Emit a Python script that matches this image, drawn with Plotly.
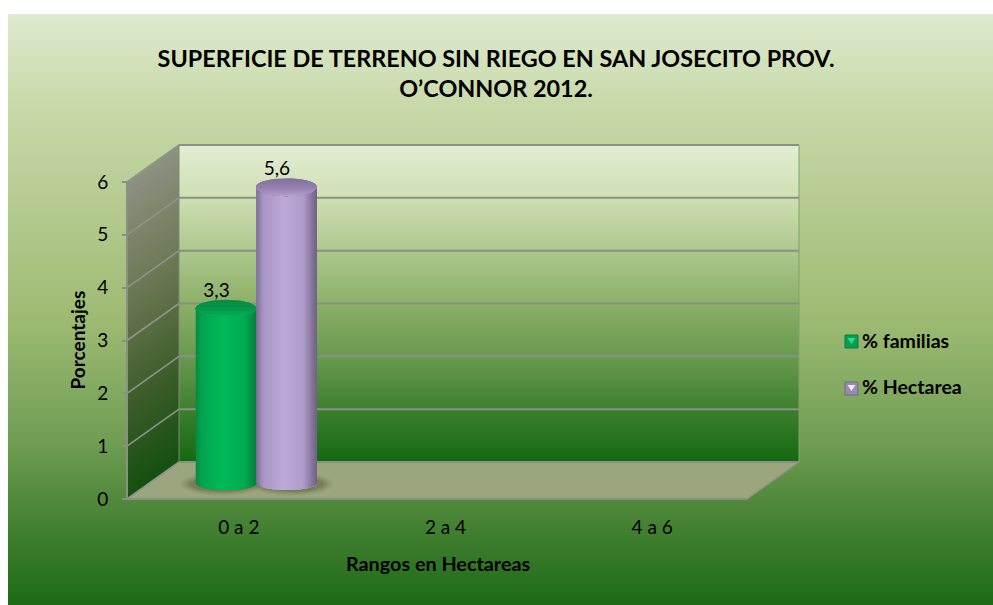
import numpy as np
import plotly.graph_objects as go

# ---- data ----
categories = ["0 a 2", "2 a 4", "4 a 6"]
familias = [3.3, None, None]
hectarea = [5.6, None, None]
y_ticks = [0, 1, 2, 3, 4, 5, 6]
title_lines = ["SUPERFICIE DE TERRENO SIN RIEGO EN SAN JOSECITO PROV.", "O\u2019CONNOR 2012."]

# ---- geometry (pixels of the 993x605 page) ----
W, H = 993, 605
FX0, FX1 = 127, 747      # front floor edge
FY0, FY6 = 499, 182      # front axis 0 and 6
DX, DY = 52, 37          # depth offset of back wall
PX_X = (FX1 - FX0) / 3
PX_Y = (FY0 - FY6) / 6
CAT_LABEL_SHIFT = 8.5 / PX_X   # category labels sit under the mid-depth of the floor

def px(p):
    return (np.asarray(p, dtype=float) - FX0) / PX_X - 0.5

def py(p):
    return (FY0 - np.asarray(p, dtype=float)) / PX_Y

dxu = DX / PX_X
dyu = DY / PX_Y
GRID = "#8B9087"

fig = go.Figure()

def lerp_color(stops, t):
    ts = [s[0] for s in stops]
    r = [np.interp(t, ts, [s[1][i] for s in stops]) for i in range(3)]
    return "rgb(%d,%d,%d)" % tuple(int(round(v)) for v in r)

def poly(xs, ys, color, opacity=None):
    fig.add_trace(go.Scatter(x=list(xs), y=list(ys), mode="lines", fill="toself",
                             fillcolor=color, line=dict(width=0), hoverinfo="skip",
                             showlegend=False, opacity=opacity))

def line(xs, ys, color=GRID, width=2):
    fig.add_trace(go.Scatter(x=list(xs), y=list(ys), mode="lines",
                             line=dict(color=color, width=width),
                             hoverinfo="skip", showlegend=False))

def gradient_rect(x0, x1, y0, y1, stops):
    n = int(y1 - y0)
    edges = np.linspace(y0, y1, n + 1)
    mids = (edges[:-1] + edges[1:]) / 2
    z = [[(m - y0) / (y1 - y0)] for m in mids]
    scale = [[s[0], "rgb(%d,%d,%d)" % s[1]] for s in stops]
    fig.add_trace(go.Heatmap(x=[float(px(x0)), float(px(x1))], y=py(edges).tolist(), z=z,
                             colorscale=scale, zmin=0, zmax=1, showscale=False,
                             hoverinfo="skip"))

# page + back wall gradients
page_stops = [(0, (223, 234, 207)), (0.15, (201, 218, 170)), (0.52, (157, 186, 114)),
              (0.72, (112, 158, 84)), (0.86, (70, 130, 52)), (1, (28, 106, 22))]
wall_stops = [(0, (227, 237, 211)), (0.16, (208, 224, 180)), (0.5, (140, 176, 104)),
              (0.72, (92, 146, 70)), (0.86, (54, 124, 42)), (1, (20, 104, 16))]
gradient_rect(8, W, 14, H, page_stops)
gradient_rect(FX0 + DX, FX1 + DX, FY6 - DY, FY0 - DY, wall_stops)

# left wall, painted top-down with overlapping strips
side_stops = [(0, (140, 145, 128)), (0.35, (108, 120, 84)), (0.7, (60, 92, 42)), (1, (18, 80, 14))]
xl, xr = float(px(FX0)), float(px(FX0 + DX))
N = 60
for i in range(N):
    t = i / N
    top = 6 - 6 * t
    poly([xl, xr, xr, xl], [top, top + dyu, dyu, 0], lerp_color(side_stops, t))

# floor
poly([px(FX0), px(FX1), px(FX1 + DX), px(FX0 + DX)],
     [0, 0, dyu, dyu], "#9CA67E")

# grid
for v in y_ticks:
    line([xl, xr], [v, v + dyu], color="#8E948A", width=1.6)
    line([xr, float(px(FX1 + DX))], [v + dyu, v + dyu])
line([xl, xl], [0, 6])
line([xr, xr], [dyu, 6 + dyu], color="#7F8A74", width=1)
line([float(px(FX1 + DX)), float(px(FX1 + DX))], [dyu, 6 + dyu], color="#7FA468", width=1)
line([float(px(FX1)), float(px(FX1 + DX))], [0, dyu], color="#8C9480", width=1.5)
line([float(px(FX0)), float(px(FX1))], [0, 0])

# ---- cylinders ----
BASE_PX = 16.0       # base centre above the front edge
RX = 30.3
RY_TOP = 9.0
RY_BOT = 7.0
theta = np.linspace(0, 2 * np.pi, 80)

def shadow(cx_px, shift):
    for sx, sy, op in [(1.36, 1.7, 0.06), (1.27, 1.5, 0.08), (1.18, 1.3, 0.11), (1.08, 1.1, 0.14)]:
        xs = px(cx_px + shift + RX * sx * np.cos(theta))
        ys = py(FY0 - BASE_PX + 1 + RY_BOT * sy * np.sin(theta))
        poly(xs, ys, "rgb(50,50,20)", opacity=op)

def cylinder(cx_px, value, body_stops, cap_stops):
    base = BASE_PX / PX_Y
    top = base + value
    xs_px = np.linspace(cx_px - RX, cx_px + RX, 61)
    right = xs_px[-1]
    # body: strips painted left to right, each reaching to the right edge
    for i in range(60):
        x0 = xs_px[i]
        t = (i + 0.5) / 60
        u_x = np.linspace(x0, right, 24)
        bot = base - (RY_BOT / PX_Y) * np.sqrt(np.clip(1 - ((u_x - cx_px) / RX) ** 2, 0, 1))
        xs = np.concatenate([px(u_x), [px(right), px(x0)]])
        ys = np.concatenate([bot, [top, top]])
        poly(xs, ys, lerp_color(body_stops, t))
    # cap: painted top-down, each slice reaching to the lower rim
    M = 16
    for j in range(M):
        t = j / M
        a = np.arcsin(np.clip(1 - 2 * t, -1, 1))
        phi = np.linspace(np.pi - a, 2 * np.pi + a, 60)
        xs = px(cx_px + RX * np.cos(phi))
        ys = top + (RY_TOP / PX_Y) * np.sin(phi)
        poly(xs, ys, lerp_color(cap_stops, t))

green_body = [(0, (10, 135, 68)), (0.1, (2, 165, 80)), (0.45, (0, 186, 88)), (0.8, (2, 172, 82)), (1, (6, 125, 62))]
green_cap = [(0, (6, 140, 68)), (0.55, (4, 152, 74)), (0.85, (2, 176, 84)), (1, (4, 190, 92))]
purple_body = [(0, (124, 108, 150)), (0.12, (170, 150, 196)), (0.45, (190, 170, 216)),
               (0.78, (176, 156, 202)), (0.93, (130, 114, 152)), (1, (112, 98, 132))]
purple_cap = [(0, (130, 112, 158)), (0.55, (150, 130, 176)), (0.85, (172, 150, 198)), (1, (190, 170, 216))]

SERIES_OFFSET_PX = (226 - (FX0 + PX_X / 2), 286.4 - (FX0 + PX_X / 2))

for idx, cat in enumerate(categories):
    cx0 = FX0 + PX_X * (idx + 0.5)
    if familias[idx] is not None:
        shadow(cx0 + SERIES_OFFSET_PX[0], -4)
    if hectarea[idx] is not None:
        shadow(cx0 + SERIES_OFFSET_PX[1], 5)
    if familias[idx] is not None:
        cylinder(cx0 + SERIES_OFFSET_PX[0], familias[idx], green_body, green_cap)
    if hectarea[idx] is not None:
        cylinder(cx0 + SERIES_OFFSET_PX[1], hectarea[idx], purple_body, purple_cap)

# data labels
def fmt(v):
    return ("%.1f" % v).replace(".", ",")

LABEL_DX = -9.5
LABEL_DY = 0.62
for vals, off in ((familias, SERIES_OFFSET_PX[0]), (hectarea, SERIES_OFFSET_PX[1])):
    xs, ys, ts = [], [], []
    for idx, v in enumerate(vals):
        if v is not None:
            xs.append(float(px(FX0 + PX_X * (idx + 0.5) + off + LABEL_DX)))
            ys.append(v + LABEL_DY)
            ts.append(fmt(v))
    fig.add_trace(go.Scatter(x=xs, y=ys, text=ts, mode="text", textposition="middle center",
                             textfont=dict(family="Lato", size=19, color="black"),
                             hoverinfo="skip", showlegend=False))

# legend: native entries; the keys themselves are drawn as bevelled squares below
for name, grp in (("<b>% familias</b>", "a"), ("<b>% Hectarea</b>", "b")):
    fig.add_trace(go.Scatter(x=[None], y=[None], mode="markers", name=name, legendgroup=grp,
                             marker=dict(symbol="square", size=1, color="rgba(0,0,0,0)")))

shapes = []
def key(x0, y0, fill, edge, tri):
    s = 13
    shapes.append(dict(type="rect", xref="paper", yref="paper", x0=x0 / W, x1=(x0 + s) / W,
                       y0=1 - y0 / H, y1=1 - (y0 + s) / H, fillcolor=fill, line=dict(color=edge, width=1)))
    a, b = (x0 + 2.5) / W, (x0 + s - 2.5) / W
    m = (x0 + s / 2) / W
    t, d = 1 - (y0 + 3) / H, 1 - (y0 + 9) / H
    shapes.append(dict(type="path", xref="paper", yref="paper",
                       path=f"M {a} {t} L {b} {t} L {m} {d} Z", fillcolor=tri, line=dict(width=0)))

key(845, 335, "#07A052", "#0B7A45", "#34D98A")
key(845, 382, "#9A8AB0", "#75678A", "#F0E8F8")

fig.update_layout(
    width=W, height=H, autosize=False,
    margin=dict(l=0, r=0, t=0, b=0, pad=0),
    paper_bgcolor="white", plot_bgcolor="rgba(0,0,0,0)",
    font=dict(family="Lato", color="black"),
    shapes=shapes,
    title=dict(text="<b>" + "<br>".join(title_lines) + "</b>", x=496 / W, xanchor="center",
               y=1 - 67 / H, yanchor="top", font=dict(family="Lato", size=23.4, color="black")),
    xaxis=dict(domain=[0, 1], range=[float(px(0)), float(px(W))], tickmode="array",
               tickvals=[i + CAT_LABEL_SHIFT for i in range(len(categories))], ticktext=categories,
               anchor="free", position=(H - FY0) / H, showgrid=False, zeroline=False,
               showline=False, ticks="", ticklabelstandoff=15,
               tickfont=dict(family="Lato", size=19, color="black")),
    yaxis=dict(domain=[0, 1], range=[float(py(H)), float(py(0))], tickmode="array",
               tickvals=y_ticks, ticktext=[str(v) for v in y_ticks],
               anchor="free", position=FX0 / W, showgrid=False, zeroline=False,
               showline=False, ticks="outside", ticklen=5, tickwidth=2, tickcolor=GRID,
               ticklabelstandoff=10,
               tickfont=dict(family="Lato", size=19, color="black")),
    legend=dict(x=822 / W, y=1 - 321 / H, xanchor="left", yanchor="top", bgcolor="rgba(0,0,0,0)",
                tracegroupgap=18, font=dict(family="Lato", size=19.5, color="black")),
    annotations=[
        dict(text="<b>Rangos en Hectareas</b>", xref="paper", yref="paper", x=438 / W, y=1 - 563 / H,
             xanchor="center", yanchor="middle", showarrow=False,
             font=dict(family="Lato", size=19.8, color="black")),
        dict(text="<b>Porcentajes</b>", xref="paper", yref="paper", x=77 / W, y=1 - 340.5 / H,
             xanchor="center", yanchor="middle", showarrow=False, textangle=-90,
             font=dict(family="Lato", size=19, color="black")),
    ],
)

fig.write_html("out.html", post_script="document.body.style.margin='0';",
               config=dict(displayModeBar=False))
